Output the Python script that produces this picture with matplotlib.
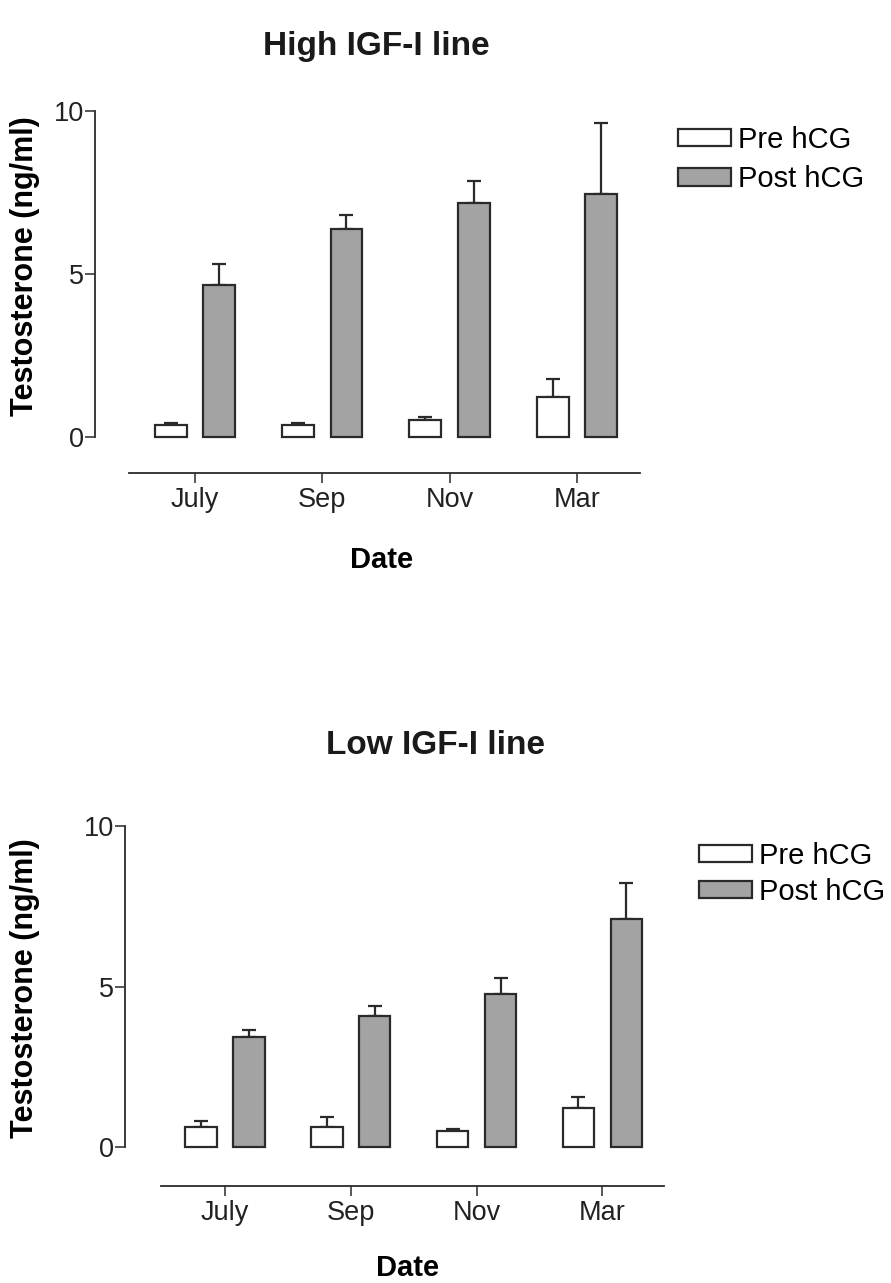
import numpy as np
import matplotlib.pyplot as plt
from matplotlib.patches import Patch

plt.rcParams['font.family'] = ['Liberation Sans', 'DejaVu Sans']

# data
dates = ['July', 'Sep', 'Nov', 'Mar']
series = ['Pre hCG', 'Post hCG']

high_pre = [0.36, 0.36, 0.51, 1.22]
high_pre_err = [0.07, 0.07, 0.10, 0.55]
high_post = [4.65, 6.39, 7.19, 7.44]
high_post_err = [0.67, 0.41, 0.65, 2.20]

low_pre = [0.62, 0.64, 0.49, 1.21]
low_pre_err = [0.18, 0.29, 0.07, 0.36]
low_post = [3.42, 4.09, 4.78, 7.11]
low_post_err = [0.23, 0.32, 0.50, 1.11]

W, H = 891, 1283
fig = plt.figure(figsize=(W / 100, H / 100), dpi=100)

edge = '#2a2a2a'
grey = '#a3a3a3'


def panel(rect, title, title_xy, pre, pre_err, post, post_err, xlim, ylim,
          line_bounds, ylab_xy, date_xy, leg_xy, leg_space):
    l, t, r, b = rect
    ax = fig.add_axes([l / W, 1 - b / H, (r - l) / W, (b - t) / H])
    x = np.arange(len(dates))
    off, bw = 0.19, 0.25
    kw = dict(width=bw, edgecolor=edge, linewidth=1.6, zorder=3)
    ax.bar(x - off, pre, color='white', **kw)
    ax.bar(x + off, post, color=grey, **kw)
    ekw = dict(fmt='none', ecolor=edge, elinewidth=1.6, capsize=5, capthick=1.6, zorder=2)
    ax.errorbar(x - off, pre, yerr=[np.zeros(len(pre)), pre_err], **ekw)
    ax.errorbar(x + off, post, yerr=[np.zeros(len(post)), post_err], **ekw)

    ax.set_xlim(*xlim)
    ax.set_ylim(*ylim)
    for s in ['top', 'right']:
        ax.spines[s].set_visible(False)
    ax.spines['left'].set_bounds(0, 10)
    ax.spines['bottom'].set_bounds(*line_bounds)
    for s in ['left', 'bottom']:
        ax.spines[s].set_linewidth(1.3)
        ax.spines[s].set_color(edge)
    ax.set_yticks([0, 5, 10])
    ax.set_xticks(x)
    ax.set_xticklabels(dates)
    ax.tick_params(axis='both', length=7, width=1.1, color=edge, labelsize=19.5,
                   labelcolor='#222222')
    ax.tick_params(axis='y', pad=1)
    ax.tick_params(axis='x', pad=3)

    ax.set_ylabel('Testosterone (ng/ml)', fontsize=22, fontweight='bold', va='center')
    ax.yaxis.set_label_coords((ylab_xy[0] - l) / (r - l), (b - ylab_xy[1]) / (b - t))
    ax.set_xlabel('Date', fontsize=21, fontweight='bold', va='center')
    ax.xaxis.set_label_coords((date_xy[0] - l) / (r - l), (b - date_xy[1]) / (b - t))

    fig.text(title_xy[0] / W, 1 - title_xy[1] / H, title, fontsize=24,
             fontweight='bold', ha='center', va='center', color='#1a1a1a')

    handles = [Patch(facecolor='white', edgecolor=edge, linewidth=1.6),
               Patch(facecolor=grey, edgecolor=edge, linewidth=1.6)]
    fig.legend(handles, series, loc='upper left',
               bbox_to_anchor=(leg_xy[0] / W, 1 - leg_xy[1] / H),
               frameon=False, fontsize=21, handlelength=1.8, handleheight=0.55,
               handletextpad=0.25, labelspacing=leg_space, borderpad=0, borderaxespad=0)
    return ax


panel((95, 111, 641, 473), 'High IGF-I line', (376, 46),
      high_pre, high_pre_err, high_post, high_post_err,
      xlim=(-0.785, 3.504), ylim=(-1.1, 10), line_bounds=(-0.52, 3.5),
      ylab_xy=(25, 266), date_xy=(382, 560), leg_xy=(678, 126), leg_space=0.38)

panel((125, 826, 664, 1186), 'Low IGF-I line', (435, 745),
      low_pre, low_pre_err, low_post, low_post_err,
      xlim=(-0.796, 3.49), ylim=(-1.21, 10), line_bounds=(-0.51, 3.49),
      ylab_xy=(25, 988), date_xy=(408, 1268), leg_xy=(699, 842), leg_space=0.27)

fig.savefig('out.png', dpi=100)
